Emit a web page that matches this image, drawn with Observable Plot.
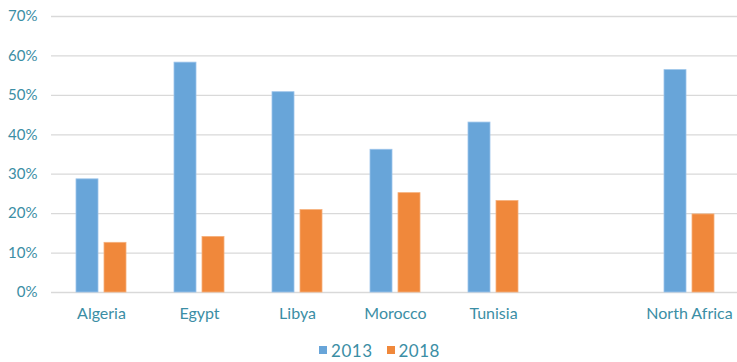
<!DOCTYPE html>
<html>
<head>
<meta charset="utf-8">
<script src="https://cdn.jsdelivr.net/npm/d3@7"></script>
<script src="https://cdn.jsdelivr.net/npm/@observablehq/plot@0.6"></script>
<style>
  html, body { margin: 0; padding: 0; background: #fff; }
  body { width: 737px; height: 362px; overflow: hidden; font-family: Lato, "Open Sans", sans-serif; }
  #legend { display: flex; justify-content: center; align-items: center; gap: 14px; height: 32px;
            padding-top: 4px; padding-left: 22px; font-size: 17px; letter-spacing: 0.5px; color: #3b8ea5; }
  #legend span.item { display: flex; align-items: center; gap: 4px; }
  #legend span.sw { width: 8px; height: 8px; display: inline-block; }
</style>
</head>
<body>
<div id="chart"></div>
<div id="legend"></div>
<script>
const categories = ["Algeria", "Egypt", "Libya", "Morocco", "Tunisia", "North Africa"];
const xDomain = ["Algeria", "Egypt", "Libya", "Morocco", "Tunisia", " ", "North Africa"];
const v2013 = [28.7, 58.3, 50.8, 36.2, 43.1, 56.4];
const v2018 = [12.6, 14.1, 20.9, 25.2, 23.2, 19.8];
const years = ["2013", "2018"];
const yTicks = [0, 10, 20, 30, 40, 50, 60, 70];
const colors = ["#68a5d9", "#f0883b"];
const textColor = "#3b8ea5";

const rows2013 = categories.map((c, i) => ({category: c, value: v2013[i]}));
const rows2018 = categories.map((c, i) => ({category: c, value: v2018[i]}));

const chart = Plot.plot({
  width: 737,
  height: 330,
  marginLeft: 51,
  marginRight: 0,
  marginTop: 16,
  marginBottom: 38,
  style: {fontFamily: "Lato, 'Open Sans', sans-serif", fontSize: "15px", color: textColor, background: "#fff"},
  x: {type: "band", domain: xDomain, range: [50, 740], paddingInner: 0.492, paddingOuter: 0.246, label: null},
  y: {domain: [0, 70], label: null},
  marks: [
    Plot.ruleY(yTicks, {stroke: "#d9d9d9", strokeWidth: 1.3}),
    Plot.barY(rows2013, {x: "category", y: "value", fill: colors[0], insetRight: 28, stroke: "#9cc4ea", strokeWidth: 0.8}),
    Plot.barY(rows2018, {x: "category", y: "value", fill: colors[1], insetLeft: 28, stroke: "#f6b07c", strokeWidth: 0.8}),
    Plot.axisY({ticks: yTicks, tickFormat: d => d + "%", tickSize: 0, tickPadding: 14, fill: textColor, fontSize: 15}),
    Plot.axisX({tickSize: 0, tickPadding: 15, fill: textColor, fontSize: 16, style: {letterSpacing: "0.5px"}})
  ]
});
document.getElementById("chart").appendChild(chart);

const legend = document.getElementById("legend");
years.forEach((y, i) => {
  const item = document.createElement("span");
  item.className = "item";
  const sw = document.createElement("span");
  sw.className = "sw";
  sw.style.background = colors[i];
  const t = document.createElement("span");
  t.textContent = y;
  item.appendChild(sw);
  item.appendChild(t);
  legend.appendChild(item);
});
</script>
</body>
</html>
